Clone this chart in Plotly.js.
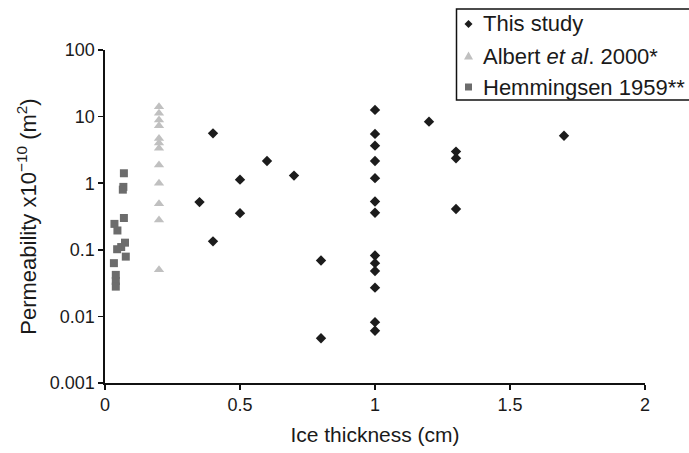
<!DOCTYPE html>
<html>
<head>
<meta charset="utf-8">
<script src="https://cdn.plot.ly/plotly-3.0.1.min.js"></script>
<style>
  html, body { margin: 0; padding: 0; background: #fff; }
  #chart { width: 689px; height: 453px; }
</style>
</head>
<body>
<div id="chart"></div>
<script>
// Ice thickness (cm) and permeability (x10^-10 m^2) for each data set
const studyThickness = [0.35, 0.4, 0.4, 0.5, 0.5, 0.6, 0.7, 0.8, 0.8,
  1.0, 1.0, 1.0, 1.0, 1.0, 1.0, 1.0, 1.0, 1.0, 1.0, 1.0, 1.0, 1.0,
  1.2, 1.3, 1.3, 1.3, 1.7];
const studyPermeability = [0.52, 5.6, 0.134, 1.13, 0.355, 2.16, 1.3, 0.069, 0.0047,
  12.6, 5.5, 3.66, 2.16, 1.19, 0.53, 0.36, 0.082, 0.063, 0.048, 0.027, 0.0082, 0.0061,
  8.4, 2.98, 2.37, 0.41, 5.17];

const albertThickness = [0.2, 0.2, 0.2, 0.2, 0.2, 0.2, 0.2, 0.2, 0.2, 0.2, 0.2, 0.2];
const albertPermeability = [14.1, 11.2, 8.9, 7.3, 4.7, 4.0, 3.35, 1.88, 1.0, 0.49, 0.28, 0.05];

const hemmThickness = [0.07, 0.068, 0.066, 0.07, 0.035, 0.046, 0.074, 0.06, 0.045,
  0.077, 0.033, 0.04, 0.04, 0.04];
const hemmPermeability = [1.41, 0.88, 0.8, 0.30, 0.245, 0.195, 0.128, 0.11, 0.102,
  0.079, 0.063, 0.042, 0.034, 0.028];

const yTickVals = [0.001, 0.01, 0.1, 1, 10, 100];
const yTickText = ['0.001', '0.01', '0.1', '1', '10', '100'];
const xTickVals = [0, 0.5, 1, 1.5, 2];
const xTickText = ['0', '0.5', '1', '1.5', '2'];

const legendNames = ['This study', 'Albert <i>et al</i>. 2000*', 'Hemmingsen 1959**'];

const COL_STUDY = '#1c1c1c';
const COL_ALBERT = '#c0c0c0';
const COL_HEMM = '#6c6c6c';
const INK = '#1a1a1a';

const W = 689, H = 453;
const M = { l: 105, r: 44, t: 50, b: 70 };
const PW = W - M.l - M.r, PH = H - M.t - M.b;
// pixel position -> paper fraction (for the hand-drawn key)
const px = x => (x - M.l) / PW;
const py = y => (H - M.b - y) / PH;

const traces = [
  { x: hemmThickness, y: hemmPermeability, name: legendNames[2], type: 'scatter', mode: 'markers',
    marker: { symbol: 'square', size: 8, color: COL_HEMM } },
  { x: albertThickness, y: albertPermeability, name: legendNames[1], type: 'scatter', mode: 'markers',
    marker: { symbol: 'triangle-up', size: 9, color: COL_ALBERT } },
  { x: studyThickness, y: studyPermeability, name: legendNames[0], type: 'scatter', mode: 'markers',
    marker: { symbol: 'diamond', size: 8, color: COL_STUDY } }
];

// key box, drawn with shapes so it can run past the right edge
const keyRows = [24, 56, 87];
const keyX = 468.5;
function diamondPath(cx, cy, r) {
  return `M${px(cx)},${py(cy - r)} L${px(cx + r)},${py(cy)} L${px(cx)},${py(cy + r)} L${px(cx - r)},${py(cy)} Z`;
}
function trianglePath(cx, cy, r) {
  return `M${px(cx)},${py(cy - r)} L${px(cx + r)},${py(cy + r * 0.8)} L${px(cx - r)},${py(cy + r * 0.8)} Z`;
}
const shapes = [
  { type: 'rect', xref: 'paper', yref: 'paper', x0: px(456.5), x1: px(720), y0: py(100), y1: py(9),
    line: { color: '#111', width: 1.5 }, fillcolor: '#fff', layer: 'above' },
  { type: 'path', xref: 'paper', yref: 'paper', path: diamondPath(keyX, keyRows[0], 4),
    fillcolor: COL_STUDY, line: { width: 0 }, layer: 'above' },
  { type: 'path', xref: 'paper', yref: 'paper', path: trianglePath(keyX, keyRows[1], 4.5),
    fillcolor: COL_ALBERT, line: { width: 0 }, layer: 'above' },
  { type: 'rect', xref: 'paper', yref: 'paper', x0: px(keyX - 3.5), x1: px(keyX + 3.5),
    y0: py(keyRows[2] + 3.5), y1: py(keyRows[2] - 3.5),
    fillcolor: COL_HEMM, line: { width: 0 }, layer: 'above' }
];
const annotations = legendNames.map((t, i) => ({
  xref: 'paper', yref: 'paper', x: px(481), y: py(keyRows[i]),
  xanchor: 'left', yanchor: 'middle', text: t, showarrow: false,
  font: { family: 'Liberation Sans, Arial, sans-serif', size: 22, color: INK }
}));

const tickFont = { family: 'Liberation Sans, Arial, sans-serif', size: 18, color: INK };
const xTitleFont = { family: 'Liberation Sans, Arial, sans-serif', size: 21, color: INK };
const yTitleFont = { family: 'Liberation Sans, Arial, sans-serif', size: 22, color: INK };

const layout = {
  width: W, height: H,
  margin: M,
  paper_bgcolor: '#fff', plot_bgcolor: '#fff',
  showlegend: false,
  font: tickFont,
  xaxis: {
    range: [0, 2], tickvals: xTickVals, ticktext: xTickText,
    showgrid: false, zeroline: false,
    showline: true, linecolor: '#111', linewidth: 1.6,
    ticks: 'outside', ticklen: 5, tickwidth: 1.6, tickcolor: '#111',
    tickfont: tickFont,
    title: { text: 'Ice thickness (cm)', font: xTitleFont, standoff: 13 }
  },
  yaxis: {
    type: 'log', range: [-3, 2], tickvals: yTickVals, ticktext: yTickText,
    showgrid: false, zeroline: false,
    showline: true, linecolor: '#111', linewidth: 1.6,
    ticks: 'outside', ticklen: 5, tickwidth: 1.6, tickcolor: '#111',
    tickfont: tickFont,
    title: { text: 'Permeability x10<sup>\u221210</sup> (m<sup>2</sup>)', font: yTitleFont, standoff: 7 }
  },
  shapes: shapes,
  annotations: annotations
};

Plotly.newPlot('chart', traces, layout, { staticPlot: true, displayModeBar: false });
</script>
</body>
</html>
